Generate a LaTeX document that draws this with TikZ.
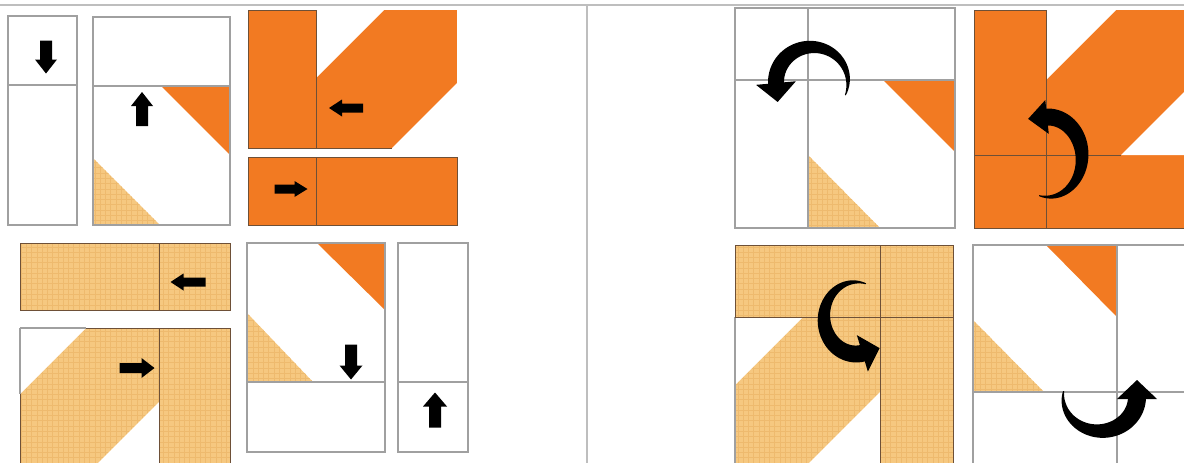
\documentclass[tikz,border=0pt]{standalone}
\usetikzlibrary{patterns}
\definecolor{qorange}{RGB}{242,122,34}
\definecolor{qtan}{RGB}{246,200,128}
\definecolor{qtand}{RGB}{238,186,110}
\definecolor{gline}{RGB}{160,160,160}
\definecolor{dline}{RGB}{110,80,55}
\definecolor{sepline}{RGB}{190,190,190}
\tikzset{
  wpiece/.style={draw=gline, line width=0.6pt},
  cedge/.style={draw=dline, line width=0.45pt},
  ofill/.style={fill=qorange},
  tfill/.style={fill=qtan},
  tgrid/.style={pattern=grid, pattern color=qtand},
  sep/.style={draw=sepline, line width=1.2pt},
}
% straight block arrow: cx, cy, angle, length, head width, shaft width, head length
\newcommand\barrow[7]{\fill[black,shift={(#1,#2)},rotate=#3]
  (-#4/2,-#6/2) -- (#4/2-#7,-#6/2) -- (#4/2-#7,-#5/2) -- (#4/2,0) --
  (#4/2-#7,#5/2) -- (#4/2-#7,#6/2) -- (-#4/2,#6/2) -- cycle;}
% curved tapering arrow: cx, cy, rx, ry, a0, a1, wmax, head width, head length
\newcommand\qarrow[9]{%
  \fill[black] plot[domain=#5:#6,samples=60,smooth]
    ({#1+(#3+0.5*(1+(#7-1)*sin(90*((\x-(#5))/((#6)-(#5))))))*cos(\x)},
     {#2-(#4+0.5*(1+(#7-1)*sin(90*((\x-(#5))/((#6)-(#5))))))*sin(\x)})
    -- plot[domain=#6:#5,samples=60,smooth]
    ({#1+(#3-0.5*(1+(#7-1)*sin(90*((\x-(#5))/((#6)-(#5))))))*cos(\x)},
     {#2-(#4-0.5*(1+(#7-1)*sin(90*((\x-(#5))/((#6)-(#5))))))*sin(\x)}) -- cycle;
  \pgfmathsetmacro\qhx{#1+#3*cos(#6)}%
  \pgfmathsetmacro\qhy{#2-#4*sin(#6)}%
  \pgfmathsetmacro\qtx{-#3*sin(#6)}%
  \pgfmathsetmacro\qty{-#4*cos(#6)}%
  \pgfmathsetmacro\qtn{sqrt((\qtx)*(\qtx)+(\qty)*(\qty))}%
  \pgfmathsetmacro\qux{(\qtx)/(\qtn)}%
  \pgfmathsetmacro\quy{(\qty)/(\qtn)}%
  \fill[black] ({\qhx-(\quy)*#8/2-(\qux)*2},{\qhy+(\qux)*#8/2-(\quy)*2})
    -- ({\qhx+(\qux)*#9},{\qhy+(\quy)*#9})
    -- ({\qhx+(\quy)*#8/2-(\qux)*2},{\qhy-(\qux)*#8/2-(\quy)*2}) -- cycle;}
\begin{document}
\begin{tikzpicture}[x=0.02cm,y=-0.02cm]
\useasboundingbox (0,0) rectangle (1184,463);
\clip (0,0) rectangle (1184,463);
\fill[white] (0,0) rectangle (1184,463);
% separators
\draw[sep] (0,5) -- (1184,5);
\draw[sep] (587,5) -- (587,463);

% ---------- left side ----------
% piece A
\draw[wpiece] (8,16) rectangle (77,225);
\draw[wpiece] (8,85) -- (77,85);
\barrow{46}{57}{270}{33}{22}{12}{14}
% piece B
\fill[ofill] (161,86) -- (230,86) -- (230,155) -- cycle;
\fill[tfill] (93,158) -- (93,225) -- (160,225) -- cycle;
\fill[tgrid] (93,158) -- (93,225) -- (160,225) -- cycle;
\draw[wpiece] (93,17) rectangle (230,225);
\draw[wpiece] (93,86) -- (230,86);
\barrow{142}{109}{90}{34}{22}{12}{14}
% piece C
\fill[ofill] (248,10) rectangle (457,148);
\fill[white] (316,10) -- (384,10) -- (316,78) -- cycle;
\fill[white] (457,83) -- (457,148) -- (392,148) -- cycle;
\draw[cedge] (248,148) -- (248,10) -- (316,10);
\draw[cedge] (248,148) -- (392,148);
\draw[cedge] (316,10) -- (316,148);
\barrow{346}{108}{180}{34}{17}{9}{13}
% piece D
\fill[ofill] (248,157) rectangle (457,225);
\draw[cedge] (248,157) rectangle (457,225);
\draw[cedge] (316,157) -- (316,225);
\barrow{291}{189}{0}{33}{16}{9}{13}
% piece E
\fill[tfill] (20,243) rectangle (230,310);
\fill[tgrid] (20,243) rectangle (230,310);
\draw[cedge] (20,243) rectangle (230,310);
\draw[cedge] (159,243) -- (159,310);
\barrow{188}{282}{180}{35}{17}{9}{13}
% piece F
\fill[tfill] (20,328) rectangle (230,470);
\fill[tgrid] (20,328) rectangle (230,470);
\fill[white] (20,328) -- (86,328) -- (20,394) -- cycle;
\fill[white] (159,402) -- (159,470) -- (91,470) -- cycle;
\draw[cedge] (86,328) -- (230,328) -- (230,470);
\draw[wpiece] (20,328) -- (86,328);
\draw[wpiece] (20,328) -- (20,394);
\draw[cedge] (20,394) -- (20,470);
\draw[cedge] (159,328) -- (159,470);
\barrow{137}{368}{0}{35}{20}{10}{13}
% piece G
\fill[ofill] (317,243) -- (385,243) -- (385,310) -- cycle;
\fill[tfill] (247,313) -- (247,382) -- (313,382) -- cycle;
\fill[tgrid] (247,313) -- (247,382) -- (313,382) -- cycle;
\draw[wpiece] (247,243) rectangle (385,452);
\draw[wpiece] (247,382) -- (385,382);
\barrow{351}{362}{270}{35}{23}{12}{14}
% piece H
\draw[wpiece] (398,243) rectangle (468,452);
\draw[wpiece] (398,382) -- (468,382);
\barrow{435}{410}{90}{35}{24}{12}{14}

% ---------- right side ----------
% R1
\fill[ofill] (883,80) -- (955,80) -- (955,152) -- cycle;
\fill[tfill] (808,155) -- (808,228) -- (880,228) -- cycle;
\fill[tgrid] (808,155) -- (808,228) -- (880,228) -- cycle;
\draw[wpiece] (735,8) rectangle (955,228);
\draw[wpiece] (808,8) -- (808,228);
\draw[wpiece] (735,80) -- (955,80);
\qarrow{812}{82}{36}{35}{-22}{185}{16}{40}{17}
% R2
\fill[ofill] (974,10) rectangle (1190,228);
\fill[white] (1046,10) -- (1116,10) -- (1046,80) -- cycle;
\fill[white] (1121,155) -- (1190,155) -- (1190,86) -- cycle;
\draw[cedge] (1190,228) -- (974,228) -- (974,10) -- (1046,10);
\draw[cedge] (1046,10) -- (1046,228);
\draw[cedge] (974,155) -- (1121,155);
\qarrow{1048}{157}{34}{40}{-105}{95}{17}{34}{17}
% R3
\fill[tfill] (735,245) rectangle (953,470);
\fill[tgrid] (735,245) rectangle (953,470);
\fill[white] (735,317) -- (803,317) -- (735,385) -- cycle;
\fill[white] (880,392) -- (880,470) -- (802,470) -- cycle;
\draw[cedge] (735,317) -- (735,245) -- (953,245) -- (953,470);
\draw[wpiece] (735,317) -- (735,470);
\draw[cedge] (880,245) -- (880,470);
\draw[cedge] (735,317) -- (953,317);
\qarrow{856}{318}{32}{36}{72}{285}{17}{38}{16}
% R4
\fill[ofill] (1046,245) -- (1117,245) -- (1117,317) -- cycle;
\fill[tfill] (973,320) -- (973,392) -- (1044,392) -- cycle;
\fill[tgrid] (973,320) -- (973,392) -- (1044,392) -- cycle;
\draw[wpiece] (973,470) -- (973,245) -- (1190,245);
\draw[wpiece] (1117,245) -- (1117,470);
\draw[wpiece] (973,392) -- (1190,392);
\qarrow{1100}{397}{37}{34}{170}{360}{18}{40}{17}
\end{tikzpicture}
\end{document}
